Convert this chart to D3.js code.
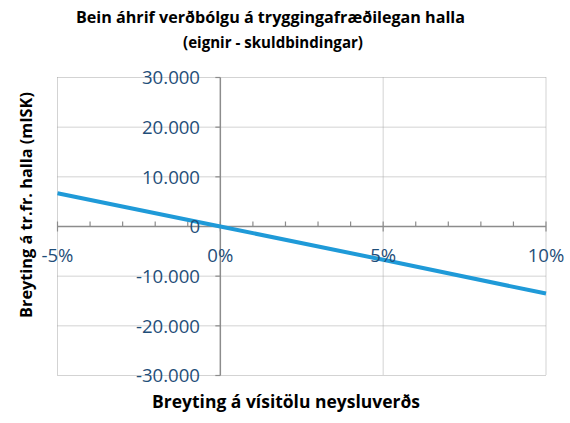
<!DOCTYPE html>
<html><head><meta charset="utf-8">
<script src="https://cdn.jsdelivr.net/npm/d3@7"></script>
<style>body{margin:0;background:#fff}svg{display:block}</style>
</head><body>
<script>
const xValues = [-5, 0, 5, 10];           // % change in CPI
const yValues = [6700, 0, -6700, -13500]; // change in actuarial balance (mISK)
const xTicks = [-5, 0, 5, 10];
const xMinorTicks = [-4, -3, -2, -1, 1, 2, 3, 4, 6, 7, 8, 9];
const yTicks = [-30000, -20000, -10000, 0, 10000, 20000, 30000];
const titleLines = ["Bein áhrif verðbólgu á tryggingafræðilegan halla", "(eignir - skuldbindingar)"];
const xTitle = "Breyting á vísitölu neysluverðs";
const yTitle = "Breyting á tr.fr. halla (mISK)";

const W = 570, H = 423;
const font = "'Open Sans', Lato, sans-serif";
const svg = d3.select("body").append("svg").attr("width", W).attr("height", H)
  .style("font-family", font);

// scale font size of a text so it spans a target width
function fit(sel, target) {
  sel.each(function() {
    const fs = parseFloat(this.getAttribute("font-size"));
    const w = this.getComputedTextLength();
    if (w > 0) this.setAttribute("font-size", (fs * target / w).toFixed(2));
  });
}

const x = d3.scaleLinear().domain([-5, 10]).range([57.5, 546]);
const y = d3.scaleLinear().domain([-30000, 30000]).range([375.5, 77.5]);
const loc = d3.formatLocale({decimal: ",", thousands: ".", grouping: [3], currency: ["", ""], minus: "-"});
const fy = loc.format(",d");
const labelColor = "#1f4e79";
const gridColor = "#a6a6a6";
const axisColor = "#8c8c8c";

// gridlines (dotted)
svg.append("g").selectAll("line").data(yTicks).join("line")
  .attr("x1", x(-5)).attr("x2", x(10))
  .attr("y1", d => y(d)).attr("y2", d => y(d))
  .attr("stroke", gridColor).attr("stroke-dasharray", "1,1").attr("stroke-width", 1)
  .attr("display", d => d === 0 ? "none" : null);
svg.append("g").selectAll("line").data(xTicks).join("line")
  .attr("x1", d => x(d)).attr("x2", d => x(d))
  .attr("y1", y(30000)).attr("y2", y(-30000))
  .attr("stroke", gridColor).attr("stroke-dasharray", "1,1").attr("stroke-width", 1)
  .attr("display", d => d === 0 ? "none" : null);

// x axis at y=0
const gx = svg.append("g");
gx.append("line").attr("x1", x(-5)).attr("x2", x(10)).attr("y1", y(0)).attr("y2", y(0))
  .attr("stroke", axisColor).attr("stroke-width", 1.5);
gx.selectAll("line.mi").data(xMinorTicks).join("line").attr("class", "mi")
  .attr("x1", d => x(d)).attr("x2", d => x(d)).attr("y1", y(0)).attr("y2", y(0) - 5)
  .attr("stroke", axisColor).attr("stroke-width", 1.2);
gx.selectAll("line.ma").data(xTicks).join("line").attr("class", "ma")
  .attr("x1", d => x(d)).attr("x2", d => x(d)).attr("y1", y(0) - 5).attr("y2", y(0) + 5)
  .attr("stroke", axisColor).attr("stroke-width", 1.2);

// y axis at x=0
const gy = svg.append("g");
gy.append("line").attr("x1", x(0)).attr("x2", x(0)).attr("y1", y(30000)).attr("y2", y(-30000))
  .attr("stroke", axisColor).attr("stroke-width", 1.5);
gy.selectAll("line.t").data(yTicks).join("line").attr("class", "t")
  .attr("x1", x(0) - 5).attr("x2", x(0)).attr("y1", d => y(d)).attr("y2", d => y(d))
  .attr("stroke", axisColor).attr("stroke-width", 1.2);

// series line
svg.append("path").datum(xValues.map((v, i) => [v, yValues[i]]))
  .attr("d", d3.line().x(d => x(d[0])).y(d => y(d[1])))
  .attr("fill", "none").attr("stroke", "#1f9ad8").attr("stroke-width", 4);

// y tick labels
const yl = svg.append("g").selectAll("text").data(yTicks).join("text")
  .attr("x", 200).attr("y", d => y(d)).attr("dy", "0.36em")
  .attr("text-anchor", "end").attr("fill", labelColor).attr("font-size", 17)
  .text(d => fy(d));
const yRef = yl.filter(d => d === 30000).node();
const yfs = (17 * 58 / yRef.getComputedTextLength()).toFixed(2);
yl.attr("font-size", yfs);

// x tick labels
svg.append("g").selectAll("text").data(xTicks).join("text")
  .attr("x", d => x(d)).attr("y", 261.5)
  .attr("text-anchor", "middle").attr("fill", labelColor).attr("font-size", yfs)
  .text(d => d + "%");

// titles
const tl = svg.append("g").selectAll("text").data(titleLines).join("text")
  .attr("x", (d, i) => i === 0 ? 270.5 : 273).attr("y", (d, i) => 23 + i * 25)
  .attr("text-anchor", "middle").attr("font-weight", "bold").attr("font-size", 15.5)
  .attr("fill", "#000").text(d => d);
fit(tl.filter((d, i) => i === 0), 389);
fit(tl.filter((d, i) => i === 1), 180);

fit(svg.append("text").attr("x", 286).attr("y", 408)
  .attr("text-anchor", "middle").attr("font-weight", "bold").attr("font-size", 15.5)
  .text(xTitle), 268);

fit(svg.append("text").attr("transform", "translate(32,205) rotate(-90)")
  .attr("text-anchor", "middle").attr("font-weight", "bold").attr("font-size", 15.5)
  .text(yTitle), 226);
</script>
</body></html>
